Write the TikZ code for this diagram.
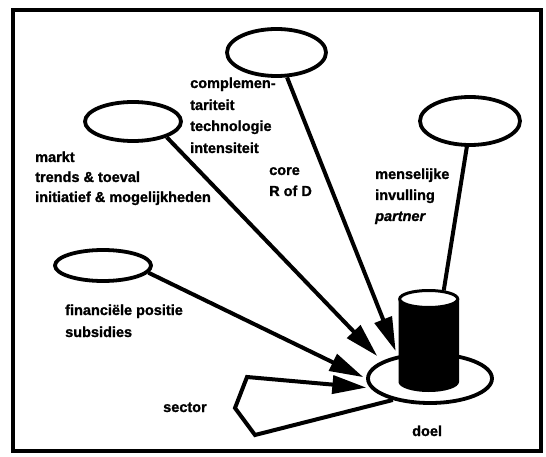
\documentclass[tikz,border=0pt]{standalone}
\usepackage{fontspec}
\setmainfont{Liberation Sans}
\newfontfamily\heavy{Liberation Sans}[BoldFeatures={FakeBold=1.3}, BoldItalicFeatures={FakeBold=1.3}]
\usetikzlibrary{shapes.geometric,arrows.meta}

\tikzset{
  lbl/.style={inner sep=0pt, anchor=base west, font=\heavy\bfseries\fontsize{14.5}{17}\selectfont},
  blob/.style={ellipse, draw, line width=3.8pt, fill=white, inner sep=0pt},
  link/.style={line width=4pt},
  arrowlink/.style={link, -{Triangle[length=34pt,width=18pt]}},
}

\begin{document}
\begin{tikzpicture}[x=1pt,y=-1pt]
\useasboundingbox (0,0) rectangle (546,457);

% outer frame
\draw[line width=4.5pt] (13,10) rectangle (541,451);

% influence ellipses
\node[blob, minimum width=99pt, minimum height=47pt] (cmp)  at (276.5,52.5) {};
\node[blob, minimum width=96pt, minimum height=39pt] (mkt)  at (133,121.5) {};
\node[blob, minimum width=100pt, minimum height=48pt] (mens) at (470,121) {};
\node[blob, minimum width=96pt, minimum height=31pt] (fin)  at (103,265.5) {};

% goal disc
\node[blob, minimum width=124pt, minimum height=49pt] (doel) at (430,378.5) {};

% arrows into the goal
\draw[arrowlink, shorten >=5pt] (cmp.-67) -- (doel.145);
\draw[arrowlink, shorten >=7pt] (mkt.-25) -- (doel.160);
\draw[arrowlink, shorten >=3pt] (fin.-9.5) -- (doel.180);

% sector loop
\coordinate (sb1) at (255,435);
\coordinate (sb2) at (235,408);
\coordinate (sb3) at (247,377);
\draw[arrowlink, shorten >=4pt] (doel.210) -- (sb1) -- (sb2) -- (sb3) -- (doel.189);

% cylinder standing on the goal disc
\fill (398.5,299) -- (398.5,382) arc[start angle=180, end angle=360, x radius=30.25pt, y radius=10pt]
      -- (459,299) -- cycle;
\node[blob, line width=3pt, minimum width=58pt, minimum height=17pt] (cyl) at (428.7,299) {};

% line from the partner ellipse to the cylinder
\draw[link] (mens.-97) -- (cyl.30);

% labels
\node[lbl] (c1) at (190,88)  {complemen-};
\node[lbl] (c2) at (190,110) {tariteit};
\node[lbl] (c3) at (190,131) {technologie};
\node[lbl] (c4) at (190,153) {intensiteit};

\node[lbl] (r1) at (269,175) {core};
\node[lbl] (r2) at (269,196) {R of D};

\node[lbl] (m1) at (35,162) {markt};
\node[lbl] (m2) at (35,182) {trends \& toeval};
\node[lbl] (m3) at (35,202) {initiatief \& mogelijkheden};

\node[lbl] (p1) at (375,179) {menselijke};
\node[lbl] (p2) at (375,200) {invulling};
\node[lbl, font=\heavy\bfseries\itshape\fontsize{14.5}{17}\selectfont] (p3) at (375,221) {partner};

\node[lbl] (f1) at (65,315) {financiële positie};
\node[lbl] (f2) at (65,337) {subsidies};

\node[lbl] (sec) at (163,412) {sector};
\node[lbl] (dl)  at (412,436) {doel};
\end{tikzpicture}
\end{document}
